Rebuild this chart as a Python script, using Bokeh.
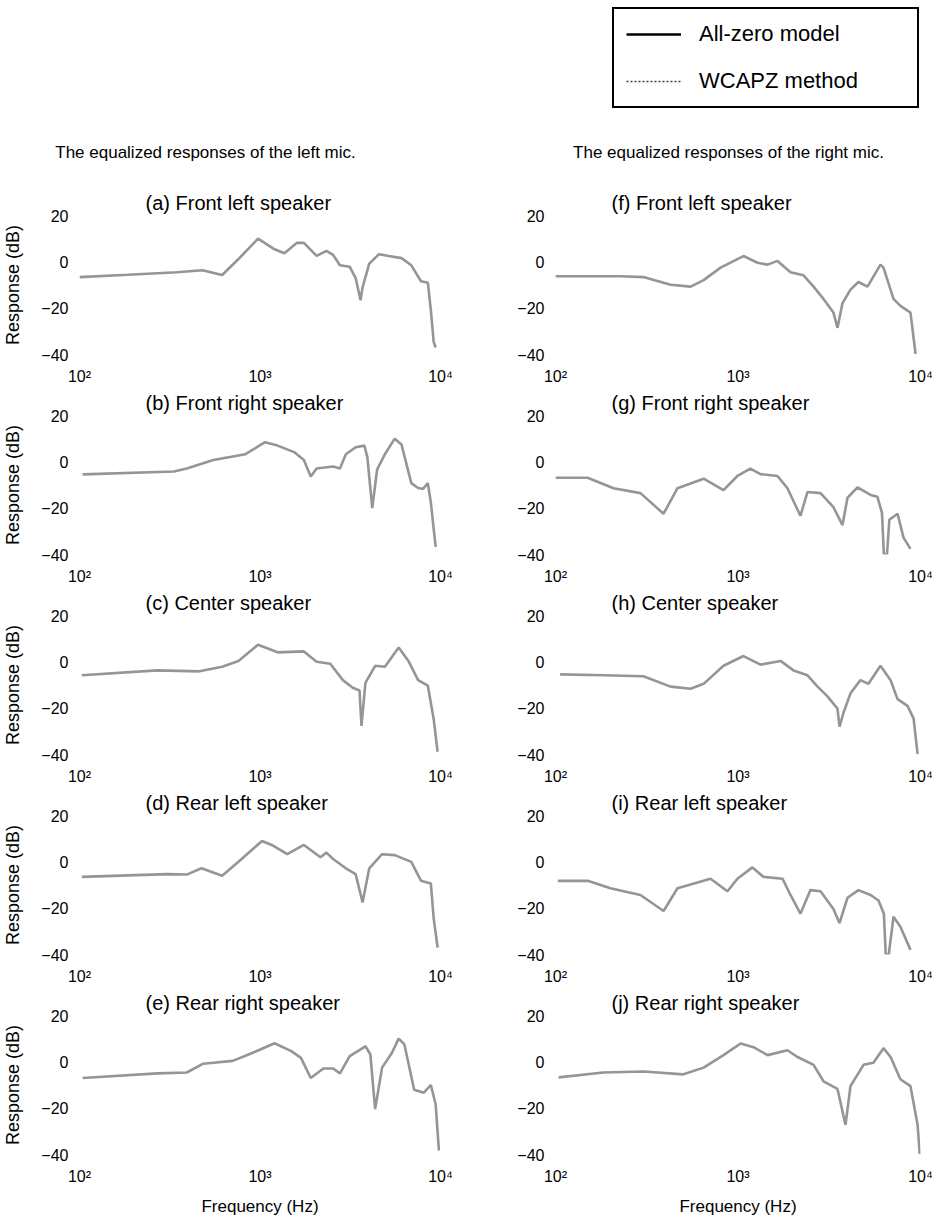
from bokeh.plotting import figure
from bokeh.layouts import column, row
from bokeh.models import Range1d, FixedTicker, Label, Legend, LegendItem
from bokeh.embed import file_html
from bokeh.resources import INLINE

# ---------------- data ----------------
series_names = ["All-zero model", "WCAPZ method"]
column_titles = ["The equalized responses of the left mic.",
                 "The equalized responses of the right mic."]
x_ticks = [100, 1000, 10000]
x_tick_labels = ["10\u00b2", "10\u00b3", "10\u2074"]
y_ticks = [-40, -20, 0, 20]

a_title = "(a) Front left speaker"
a_f = [100, 186, 347, 480, 617, 760, 975, 1205, 1365, 1603, 1750, 2060, 2333, 2540, 2773, 3140, 3388, 3606, 3700, 4030, 4565, 5170, 6080, 6890, 7800, 8510, 8840, 9170, 9400]
a_db = [-6.6, -5.6, -4.5, -3.6, -5.7, 1.2, 10.0, 5.4, 3.7, 8.2, 8.2, 2.6, 4.7, 3.0, -1.5, -2.1, -7.0, -16.6, -11.0, -0.8, 3.3, 2.5, 1.6, -1.5, -8.4, -9.0, -20.8, -34.6, -37.0]

b_title = "(b) Front right speaker"
b_f = [104, 334, 393, 551, 830, 1066, 1251, 1545, 1750, 1910, 2060, 2540, 2773, 2990, 3388, 3785, 3933, 4187, 4456, 4920, 5573, 6080, 6890, 7516, 8000, 8510, 8840, 9400]
b_db = [-5.4, -4.2, -2.9, 0.8, 3.3, 8.5, 7.0, 4.2, 0.8, -6.3, -2.9, -2.0, -2.9, 3.3, 6.3, 7.0, 2.0, -20.0, -3.3, 3.3, 10.0, 7.5, -9.2, -11.3, -11.7, -9.2, -17.5, -36.7]

c_title = "(c) Center speaker"
c_f = [103, 270, 462, 617, 760, 975, 1251, 1750, 2060, 2450, 2877, 3265, 3560, 3650, 3837, 4345, 4920, 5866, 6640, 7516, 8510, 9170, 9640]
c_db = [-5.8, -3.7, -4.1, -2.1, 0.4, 7.4, 4.1, 4.5, 0.0, -0.8, -7.9, -11.2, -12.4, -27.7, -9.1, -1.7, -2.1, 6.2, 0.4, -7.9, -10.3, -24.8, -38.8]

d_title = "(d) Rear left speaker"
d_f = [103, 306, 393, 474, 617, 760, 1026, 1161, 1416, 1750, 2163, 2333, 2540, 2990, 3388, 3700, 4030, 4745, 5573, 6890, 7800, 8840, 9170, 9640]
d_db = [-6.5, -5.3, -5.5, -2.8, -6.0, 0.0, 9.0, 7.3, 3.3, 7.3, 2.0, 4.0, 1.2, -2.8, -5.3, -17.5, -2.8, 3.3, 2.9, 0.0, -8.2, -9.4, -24.5, -37.0]

e_title = "(e) Rear right speaker"
e_f = [104, 270, 393, 485, 706, 906, 1205, 1490, 1686, 1910, 2245, 2540, 2773, 3140, 3837, 4085, 4345, 4745, 5375, 5866, 6310, 7145, 8090, 8840, 9400, 9800]
e_db = [-7.0, -5.0, -4.6, -0.8, 0.4, 3.8, 8.0, 4.6, 1.7, -7.0, -2.9, -2.9, -5.0, 2.5, 6.7, 3.3, -20.4, -2.5, 3.8, 10.0, 7.5, -12.0, -13.3, -10.0, -18.3, -38.3]

f_title = "(f) Front left speaker"
f_f = [100, 227, 303, 427, 550, 648, 802, 1072, 1279, 1452, 1646, 1939, 2286, 2594, 2940, 3334, 3508, 3738, 4133, 4571, 5126, 6034, 6269, 7113, 7762, 8810, 9395]
f_db = [-6.2, -6.2, -6.6, -9.9, -10.7, -7.9, -2.5, 2.5, -0.4, -1.2, 0.4, -4.5, -5.8, -10.7, -16.0, -21.9, -28.5, -17.8, -12.0, -8.7, -10.7, -1.2, -2.5, -16.0, -19.0, -21.9, -39.7]

g_title = "(g) Front right speaker"
g_f = [100, 150, 208, 292, 391, 466, 648, 833, 993, 1170, 1328, 1646, 1866, 2198, 2404, 2832, 3334, 3738, 3981, 4519, 5325, 5808, 6150, 6300, 6550, 6750, 7486, 8072, 8810]
g_db = [-6.9, -6.9, -11.4, -13.5, -22.4, -11.4, -7.3, -12.2, -6.1, -2.9, -5.3, -6.1, -11.4, -23.3, -13.0, -13.5, -19.6, -27.3, -15.5, -11.0, -14.3, -15.1, -22.0, -40.0, -40.0, -25.0, -22.4, -32.7, -37.6]

h_title = "(h) Center speaker"
h_f = [106, 183, 303, 427, 550, 648, 833, 1072, 1328, 1710, 2014, 2404, 2729, 3093, 3508, 3600, 3787, 4133, 4688, 5188, 6034, 6855, 7486, 8486, 9162, 9639]
h_db = [-5.4, -5.8, -6.2, -10.7, -11.6, -9.5, -1.7, 2.5, -1.2, 0.4, -3.7, -5.8, -10.7, -14.9, -20.2, -28.0, -21.9, -13.6, -7.9, -9.5, -1.7, -7.9, -16.1, -19.0, -24.4, -39.7]

i_title = "(i) Rear left speaker"
i_f = [103, 150, 200, 292, 391, 466, 707, 875, 993, 1199, 1380, 1754, 1939, 2198, 2494, 2832, 3334, 3600, 3981, 4571, 5325, 5888, 6300, 6450, 6700, 7113, 7762, 8810]
i_db = [-8.2, -8.2, -11.4, -14.3, -21.2, -11.4, -7.3, -12.7, -7.3, -2.4, -6.5, -7.3, -14.3, -22.4, -12.2, -12.7, -20.4, -26.5, -15.5, -12.2, -14.3, -16.7, -22.4, -40.0, -40.0, -23.7, -28.0, -38.0]

j_title = "(j) Rear right speaker"
j_f = [104, 183, 303, 503, 648, 833, 1033, 1216, 1452, 1866, 2118, 2594, 2940, 3508, 3883, 4133, 4873, 5520, 6269, 6855, 7762, 8810, 9639, 9900]
j_db = [-6.7, -4.6, -4.2, -5.4, -2.5, 2.9, 7.9, 6.3, 2.9, 5.0, 2.1, -1.3, -8.4, -11.7, -27.2, -10.5, -1.3, -0.4, 5.9, 2.1, -7.5, -10.5, -27.2, -39.7]

left_panels = [(a_title, a_f, a_db), (b_title, b_f, b_db), (c_title, c_f, c_db),
               (d_title, d_f, d_db), (e_title, e_f, e_db)]
right_panels = [(f_title, f_f, f_db), (g_title, g_f, g_db), (h_title, h_f, h_db),
                (i_title, i_f, i_db), (j_title, j_f, j_db)]

# ---------------- styling ----------------
FONT = "Liberation Sans"
CURVE = "#959595"


def make_panel(title, freq, resp, is_left, is_bottom):
    p = figure(width=468, height=231 if is_bottom else 200,
               x_axis_type="log",
               x_range=Range1d(100, 10000), y_range=Range1d(-40, 20),
               output_backend="svg", toolbar_location=None,
               min_border_top=28, min_border_bottom=58 if is_bottom else 27,
               min_border_left=70 if is_left else 87,
               min_border_right=28 if is_left else 16)
    p.line(freq, resp, line_color=CURVE, line_width=2.6)

    p.title.text = title
    p.title.align = "left"
    p.title.offset = 66 if is_left else 56
    p.title.text_font = FONT
    p.title.text_font_size = "20px"
    p.title.text_font_style = "normal"
    p.title.text_color = "black"
    p.title.standoff = 3

    p.xgrid.visible = False
    p.ygrid.visible = False
    p.outline_line_color = None

    for ax in (p.xaxis[0], p.yaxis[0]):
        ax.axis_line_color = None
        ax.major_tick_line_color = None
        ax.minor_tick_line_color = None
        ax.major_label_text_font = FONT
        ax.major_label_text_font_size = "16px"
        ax.major_label_text_color = "black"
        ax.axis_label_text_font = FONT
        ax.axis_label_text_font_style = "normal"
        ax.axis_label_text_color = "black"

    p.xaxis.ticker = FixedTicker(ticks=x_ticks)
    p.xaxis.major_label_overrides = dict(zip(x_ticks, x_tick_labels))
    p.xaxis.major_label_standoff = 7
    p.yaxis.ticker = FixedTicker(ticks=y_ticks)
    p.yaxis.major_label_standoff = 5

    if is_left:
        p.yaxis.axis_label = "Response (dB)"
        p.yaxis.axis_label_text_font_size = "18px"
        p.yaxis.axis_label_standoff = 15
    if is_bottom:
        p.xaxis.axis_label = "Frequency (Hz)"
        p.xaxis.axis_label_text_font_size = "17px"
        p.xaxis.axis_label_standoff = 9
    return p


# ---------------- header: legend + column titles ----------------
head = figure(width=936, height=187, x_range=Range1d(0, 936), y_range=Range1d(0, 187),
              output_backend="svg", toolbar_location=None,
              x_axis_location=None, y_axis_location=None, min_border=0)
head.xgrid.visible = False
head.ygrid.visible = False
head.outline_line_color = None
nan = float("nan")
r_zero = head.line(x=[nan], y=[nan], line_color="black", line_width=2.5)
r_wcapz = head.line(x=[nan], y=[nan], line_color="#444444", line_width=1.5, line_dash="2 2")
legend = Legend(items=[LegendItem(label=series_names[0], renderers=[r_zero]),
                       LegendItem(label=series_names[1], renderers=[r_wcapz])],
                location=(612, 79), border_line_color="black", border_line_width=2,
                border_line_alpha=1.0,
                padding=12, spacing=21, glyph_width=55, glyph_height=26,
                label_height=26, label_width=206, label_standoff=18,
                label_text_font=FONT, label_text_font_size="22px",
                label_text_color="black", margin=0,
                background_fill_alpha=1.0)
head.add_layout(legend)
for xc, txt in zip([205, 728], column_titles):
    head.add_layout(Label(x=xc, y=35, x_units="screen", y_units="screen", text=txt,
                          text_align="center", text_baseline="middle",
                          text_font=FONT, text_font_size="17px", text_color="black"))

rows = [head]
for k in range(5):
    lt, lf, ld = left_panels[k]
    rt, rf, rd = right_panels[k]
    rows.append(row(make_panel(lt, lf, ld, True, k == 4),
                    make_panel(rt, rf, rd, False, k == 4)))

layout = column(*rows)
open("out.html", "w").write(file_html(layout, INLINE))
